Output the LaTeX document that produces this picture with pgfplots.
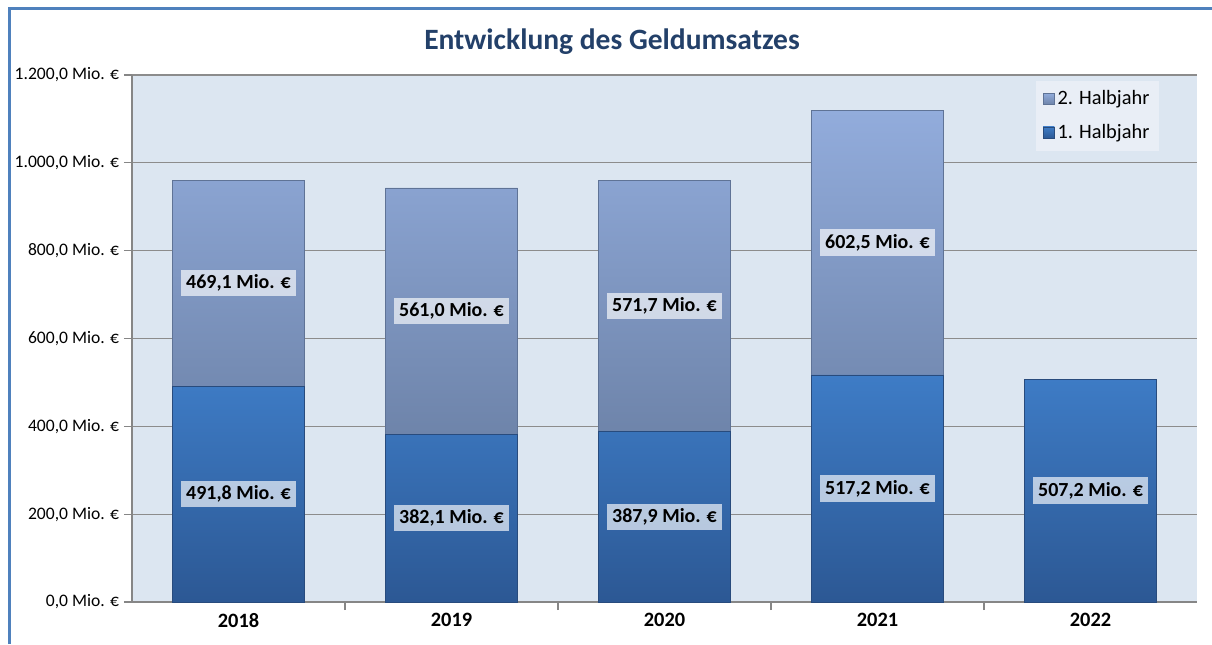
\documentclass[border=0pt]{standalone}
\usepackage{pgfplots}
\pgfplotsset{compat=1.18}
\usepackage{fontspec}
\setmainfont{Carlito}
\definecolor{bgplot}{RGB}{220,230,241}
\definecolor{gridgray}{RGB}{140,140,140}
\definecolor{axisgray}{RGB}{134,134,134}
\definecolor{framecol}{RGB}{79,129,189}
\definecolor{titlecol}{RGB}{35,64,105}
\definecolor{hatop}{RGB}{62,124,198}
\definecolor{habot}{RGB}{44,88,148}
\definecolor{haedge}{RGB}{40,75,125}
\definecolor{hbtop}{RGB}{146,172,220}
\definecolor{hbbot}{RGB}{110,132,170}
\definecolor{hbedge}{RGB}{95,115,150}
\definecolor{legfill}{RGB}{233,238,246}

\begin{document}
\begin{tikzpicture}
% 1 px of the reference = 0.025 cm
\path[use as bounding box, fill=white] (0,0) rectangle (30.3,16.1);
\draw[line width=0.075cm, framecol] (0.225,0) -- (0.225,15.875) -- (30.3,15.875);
\node[font=\fontsize{21}{25}\selectfont\bfseries, text=titlecol] at (15.3,15.05) {Entwicklung des Geldumsatzes};

\begin{axis}[
    at={(3.3cm,1.05cm)}, anchor=south west,
    scale only axis,
    width=26.625cm, height=13.175cm,
    ybar stacked,
    bar width=0.62,
    xmin=-0.5, xmax=4.5,
    ymin=0, ymax=1200,
    axis background/.style={fill=bgplot},
    axis x line*=bottom, axis y line*=left,
    axis line style={draw=axisgray, line width=0.8pt},
    ytick={0,200,400,600,800,1000,1200},
    yticklabels={{0,0 Mio. €},{200,0 Mio. €},{400,0 Mio. €},{600,0 Mio. €},{800,0 Mio. €},{1.000,0 Mio. €},{1.200,0 Mio. €}},
    yticklabel style={font=\fontsize{12.5}{15}\selectfont, text=black},
    ymajorgrids,
    major grid style={draw=gridgray, line width=0.8pt},
    xtick={0.5,1.5,2.5,3.5},
    xticklabels={},
    extra x ticks={0,1,2,3,4},
    extra x tick labels={2018,2019,2020,2021,2022},
    extra x tick style={major tick length=0pt,
        xticklabel style={font=\fontsize{14.5}{17}\selectfont\bfseries, yshift=-0.15cm}},
    tick align=outside,
    major tick length=0.2cm,
    tick style={draw=axisgray, line width=0.8pt},
    reverse legend,
    legend style={at={(0.965,0.99)}, anchor=north east, fill=legfill, draw=none,
        font=\fontsize{14.5}{17}\selectfont, row sep=0.3cm, inner sep=0.18cm},
    legend cell align=left,
    legend image code/.code={\draw[#1] (0cm,-0.14cm) rectangle (0.28cm,0.14cm);},
    point meta=explicit symbolic,
    nodes near coords,
    every node near coord/.append style={anchor=center, fill=white, fill opacity=0.65,
        text opacity=1, text=black, inner sep=0.12cm,
        font=\fontsize{14.2}{17}\selectfont\bfseries},
]

% 1. Halbjahr
\addplot[draw=haedge, line width=0.4pt, top color=hatop, bottom color=habot]
coordinates {
    (0,491.8) [491,8 Mio. €]
    (1,382.1) [382,1 Mio. €]
    (2,387.9) [387,9 Mio. €]
    (3,517.2) [517,2 Mio. €]
    (4,507.2) [507,2 Mio. €]
};
\addlegendentry{1. Halbjahr}

% 2. Halbjahr
\addplot[draw=hbedge, line width=0.4pt, top color=hbtop, bottom color=hbbot]
coordinates {
    (0,469.1) [469,1 Mio. €]
    (1,561.0) [561,0 Mio. €]
    (2,571.7) [571,7 Mio. €]
    (3,602.5) [602,5 Mio. €]
};
\addlegendentry{2. Halbjahr}

\end{axis}
\end{tikzpicture}
\end{document}
